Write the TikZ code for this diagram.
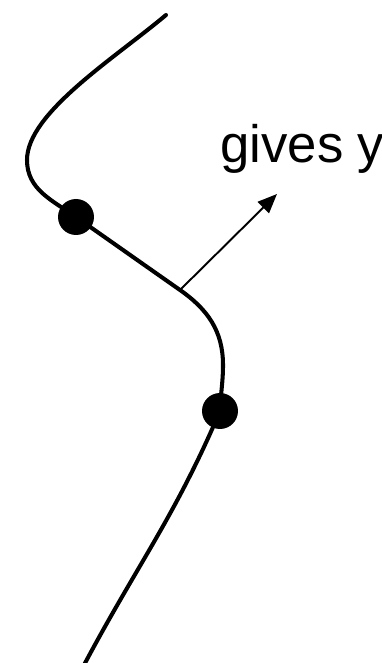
\documentclass[tikz,border=0pt]{standalone}
\usepackage{fontspec}
\setmainfont{Liberation Sans}
\usetikzlibrary{arrows.meta}
\begin{document}
\begin{tikzpicture}[x=0.02cm,y=0.02cm,
  curve/.style={line width=2.3pt,line cap=round},
  dot/.style={circle,fill,inner sep=0pt,minimum size=0.72cm},
  arr/.style={-{Triangle[length=11pt,width=9pt]},line width=1.1pt}]
\useasboundingbox (0,0) rectangle (382,663);

\coordinate (top) at (166,648);
\coordinate (left) at (27,503);
\node[dot] (p) at (76,446) {};
\coordinate (mid) at (180,373);
\coordinate (bend) at (223,298);
\node[dot] (q) at (220,252) {};
\coordinate (bot) at (84,-2);
\coordinate (tip) at (277,469);

\draw[curve] (top) .. controls (115,605) and (27,550) .. (left)
  to[out=-90,in=145] (p.center)
  to[out=-35,in=145] (mid) to[out=-35,in=90] (bend)
  to[out=-90,in=88] (q.center) to[out=-113,in=62] (bot);

\draw[arr] (mid) -- (tip);

\node[anchor=base west,inner sep=0pt,font=\fontsize{30}{36}\selectfont] (lbl) at (220,500) {gives y};
\end{tikzpicture}
\end{document}
